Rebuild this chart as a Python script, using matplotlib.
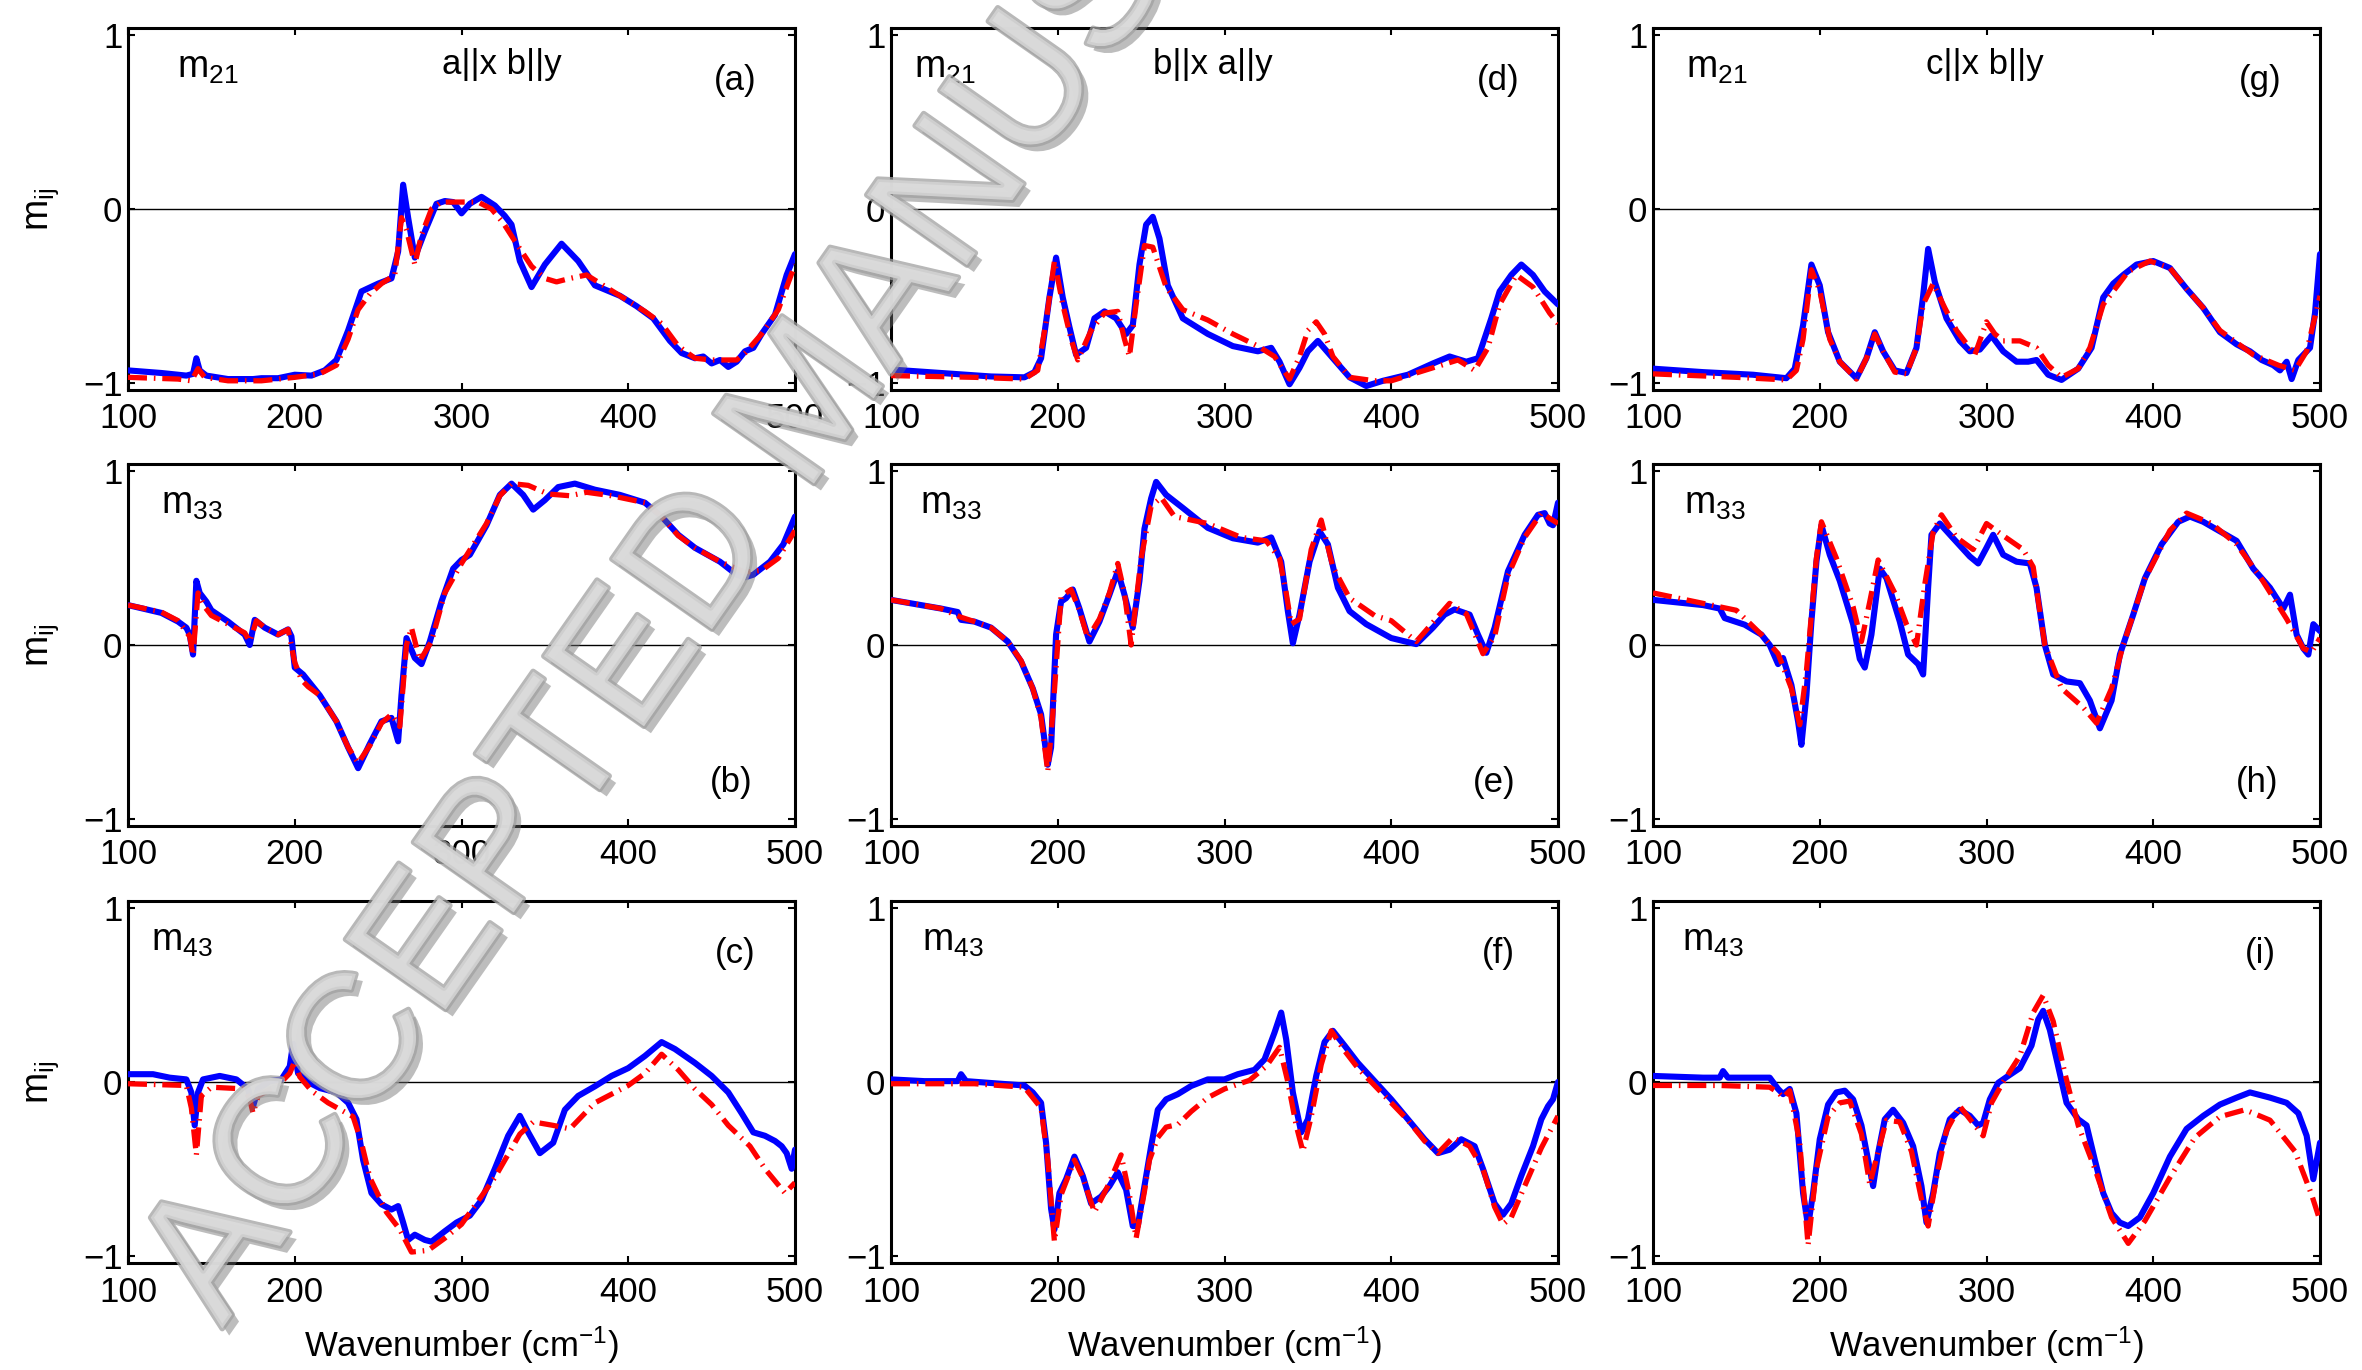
import matplotlib
matplotlib.use("Agg")
import matplotlib.pyplot as plt
import matplotlib.patheffects as pe

fam = "Liberation Sans"
plt.rcParams["font.family"] = [fam, "DejaVu Sans"]
plt.rcParams["mathtext.fontset"] = "custom"
plt.rcParams["mathtext.rm"] = fam
plt.rcParams["mathtext.it"] = fam

# ---- data ----
# (a) m21, a||x b||y
wn_a_meas = [100,120,135,139,141,143,147,160,175,180,190,200,210,218,225,232,240,250,258,262,265,268,272,278,285,290,295,300,305,312,320,326,330,335,342,350,360,370,380,395,405,415,425,432,440,445,450,455,460,465,470,475,480,488,495,500]
m_a_meas = [-0.93,-0.945,-0.96,-0.95,-0.86,-0.93,-0.96,-0.98,-0.98,-0.975,-0.975,-0.955,-0.96,-0.93,-0.87,-0.70,-0.475,-0.43,-0.40,-0.245,0.14,-0.05,-0.28,-0.13,0.03,0.046,0.04,-0.025,0.03,0.07,0.02,-0.04,-0.09,-0.30,-0.45,-0.32,-0.20,-0.30,-0.44,-0.50,-0.56,-0.63,-0.76,-0.83,-0.86,-0.85,-0.89,-0.87,-0.91,-0.88,-0.82,-0.80,-0.72,-0.61,-0.38,-0.26]
wn_a_fit = [100,130,138,142,146,160,180,200,215,225,232,238,245,252,260,264,267,272,276,282,288,300,310,318,325,333,342,350,357,365,375,385,395,410,420,430,440,450,460,465,470,480,490,500]
m_a_fit = [-0.97,-0.98,-0.99,-0.92,-0.97,-0.99,-0.99,-0.97,-0.95,-0.90,-0.75,-0.58,-0.49,-0.43,-0.38,-0.05,-0.12,-0.32,-0.15,0.0,0.04,0.04,0.04,0.0,-0.08,-0.20,-0.33,-0.40,-0.42,-0.40,-0.38,-0.44,-0.50,-0.59,-0.66,-0.79,-0.86,-0.87,-0.87,-0.87,-0.83,-0.72,-0.58,-0.32]

# (b) m33, a||x b||y
wn_b_meas = [100,120,130,135,137,139,141,143,147,150,160,170,173,176,182,190,196,198,200,205,215,225,232,238,245,252,258,262,264,267,272,276,281,288,295,300,305,315,323,330,337,343,350,358,368,380,395,410,420,430,440,455,465,470,475,485,493,500]
m_b_meas = [0.23,0.185,0.135,0.10,0.06,-0.055,0.37,0.30,0.25,0.20,0.135,0.06,0.0,0.145,0.10,0.06,0.09,0.05,-0.13,-0.17,-0.29,-0.44,-0.59,-0.71,-0.57,-0.44,-0.42,-0.555,-0.29,0.04,-0.075,-0.11,0.02,0.25,0.44,0.49,0.52,0.69,0.865,0.93,0.865,0.78,0.835,0.91,0.93,0.895,0.865,0.82,0.74,0.635,0.56,0.48,0.405,0.39,0.405,0.48,0.58,0.74]
wn_b_fit = [100,120,130,137,139,142,146,150,160,170,173,177,182,190,196,200,204,208,215,225,232,238,245,252,258,263,267,270,275,282,290,300,315,323,330,340,352,365,375,390,410,420,430,440,455,470,480,490,500]
m_b_fit = [0.23,0.19,0.14,0.05,-0.06,0.30,0.22,0.17,0.12,0.07,0.02,0.14,0.10,0.06,0.09,-0.10,-0.20,-0.24,-0.29,-0.44,-0.59,-0.68,-0.58,-0.45,-0.40,-0.47,0.0,0.10,-0.09,0.02,0.30,0.47,0.70,0.86,0.93,0.92,0.87,0.86,0.88,0.86,0.82,0.74,0.63,0.56,0.48,0.42,0.43,0.50,0.66]

# (c) m43, a||x b||y
wn_c_meas = [100,115,125,135,138,140,142,145,155,165,172,175,178,185,192,197,199,202,208,215,225,232,237,241,246,252,258,262,265,268,272,278,282,290,297,305,312,320,328,335,340,347,355,362,370,380,390,400,410,420,428,440,450,460,468,475,482,488,492,495,498,500]
m_c_meas = [0.045,0.045,0.025,0.015,-0.06,-0.25,-0.06,0.015,0.035,0.015,-0.04,-0.14,-0.04,0.005,0.015,0.09,0.22,0.05,0.0,-0.035,-0.06,-0.12,-0.215,-0.45,-0.64,-0.705,-0.735,-0.715,-0.81,-0.91,-0.88,-0.91,-0.92,-0.86,-0.81,-0.77,-0.68,-0.50,-0.31,-0.195,-0.29,-0.41,-0.35,-0.16,-0.08,-0.025,0.035,0.08,0.15,0.23,0.19,0.11,0.035,-0.06,-0.18,-0.29,-0.31,-0.34,-0.37,-0.41,-0.50,-0.39]
wn_c_fit = [100,135,138,141,144,150,170,173,175,178,190,197,200,203,210,220,235,240,245,255,263,270,280,290,300,320,335,343,355,365,380,400,410,420,430,440,450,460,473,482,494,500]
m_c_fit = [-0.01,-0.02,-0.15,-0.42,-0.08,-0.03,-0.04,-0.10,-0.18,-0.08,-0.02,0.05,0.12,0.03,-0.05,-0.12,-0.20,-0.35,-0.55,-0.75,-0.85,-0.98,-0.97,-0.90,-0.82,-0.55,-0.30,-0.23,-0.25,-0.27,-0.12,-0.02,0.05,0.16,0.07,-0.04,-0.13,-0.25,-0.37,-0.50,-0.64,-0.58]

# (d) m21, b||x a||y
wn_d_meas = [100,130,160,180,186,190,195,199,203,207,211,217,222,228,235,241,245,249,253,257,261,266,275,290,305,320,328,333,339,345,350,356,365,375,385,395,410,425,435,445,452,460,465,472,478,485,492,500]
m_d_meas = [-0.925,-0.945,-0.965,-0.97,-0.94,-0.86,-0.51,-0.28,-0.51,-0.68,-0.84,-0.80,-0.63,-0.59,-0.63,-0.72,-0.67,-0.32,-0.09,-0.045,-0.17,-0.44,-0.63,-0.72,-0.79,-0.82,-0.80,-0.88,-1.01,-0.915,-0.82,-0.76,-0.86,-0.97,-1.02,-0.99,-0.955,-0.89,-0.85,-0.88,-0.86,-0.63,-0.475,-0.38,-0.32,-0.38,-0.475,-0.55]
wn_d_fit = [100,150,180,188,193,198,203,208,212,220,228,236,240,243,247,252,257,265,275,290,305,320,330,339,345,350,355,360,365,375,390,400,420,440,450,458,465,475,485,495,500]
m_d_fit = [-0.96,-0.97,-0.98,-0.93,-0.65,-0.30,-0.55,-0.75,-0.87,-0.70,-0.60,-0.59,-0.75,-0.85,-0.55,-0.21,-0.22,-0.45,-0.58,-0.64,-0.72,-0.79,-0.85,-0.98,-0.85,-0.70,-0.65,-0.72,-0.85,-0.97,-0.99,-0.99,-0.93,-0.87,-0.93,-0.80,-0.55,-0.38,-0.45,-0.60,-0.66]

# (e) m33, b||x a||y
wn_e_meas = [100,130,140,142,150,160,170,178,185,190,194,196,199,202,205,209,213,219,225,231,236,240,245,249,252,256,259,265,275,290,305,320,328,334,338,341,345,351,357,362,368,375,385,400,415,425,432,438,447,452,457,462,470,480,488,492,495,497,500]
m_e_meas = [0.26,0.21,0.19,0.145,0.135,0.10,0.02,-0.095,-0.25,-0.40,-0.69,-0.59,0.06,0.25,0.27,0.32,0.21,0.02,0.135,0.29,0.425,0.29,0.10,0.37,0.67,0.845,0.94,0.865,0.79,0.675,0.615,0.59,0.62,0.48,0.195,0.01,0.175,0.48,0.655,0.58,0.33,0.195,0.12,0.04,0.005,0.10,0.175,0.205,0.175,0.06,-0.045,0.10,0.425,0.635,0.75,0.76,0.70,0.69,0.82]
wn_e_fit = [100,130,142,150,160,170,178,185,190,194,197,202,208,213,218,225,231,236,240,244,250,256,262,270,290,310,325,333,337,340,345,352,358,365,375,390,400,415,425,435,445,455,462,470,480,490,500]
m_e_fit = [0.26,0.21,0.16,0.135,0.10,0.02,-0.09,-0.25,-0.42,-0.73,-0.40,0.28,0.32,0.20,0.04,0.15,0.30,0.47,0.30,0.00,0.50,0.80,0.85,0.74,0.70,0.62,0.60,0.50,0.30,0.12,0.15,0.55,0.72,0.45,0.27,0.17,0.14,0.02,0.13,0.24,0.18,-0.05,0.05,0.40,0.62,0.76,0.70]

# (f) m43, b||x a||y
wn_f_meas = [100,120,140,142,145,170,180,185,190,193,196,198,201,205,210,215,220,226,231,236,241,245,248,252,256,260,265,272,280,290,300,308,318,324,330,334,337,341,346,350,355,360,365,372,380,390,400,410,420,428,435,442,450,455,462,467,472,478,485,490,494,497,500]
m_f_meas = [0.015,0.005,0.005,0.045,0.005,-0.013,-0.02,-0.06,-0.12,-0.35,-0.73,-0.85,-0.64,-0.56,-0.43,-0.54,-0.70,-0.66,-0.60,-0.52,-0.62,-0.83,-0.83,-0.60,-0.37,-0.16,-0.10,-0.07,-0.023,0.015,0.015,0.045,0.07,0.13,0.285,0.40,0.245,-0.06,-0.29,-0.215,0.035,0.23,0.295,0.21,0.11,0.005,-0.10,-0.215,-0.33,-0.41,-0.39,-0.33,-0.37,-0.50,-0.70,-0.765,-0.70,-0.54,-0.37,-0.215,-0.14,-0.10,0.0]
wn_f_fit = [100,150,180,190,194,198,202,210,215,222,230,238,243,247,252,255,260,265,272,280,290,300,315,325,333,338,343,347,352,358,364,372,380,390,400,410,420,428,437,447,455,462,467,472,480,490,500]
m_f_fit = [-0.01,-0.01,-0.03,-0.15,-0.45,-0.92,-0.65,-0.45,-0.55,-0.75,-0.60,-0.42,-0.65,-0.90,-0.63,-0.45,-0.32,-0.26,-0.245,-0.17,-0.09,-0.04,0.01,0.09,0.20,0.0,-0.25,-0.40,-0.20,0.10,0.295,0.18,0.08,-0.02,-0.12,-0.22,-0.34,-0.41,-0.32,-0.37,-0.50,-0.72,-0.82,-0.78,-0.60,-0.38,-0.196]

# (g) m21, c||x b||y
wn_g_meas = [100,130,160,180,185,190,195,200,205,212,222,228,233,238,245,252,258,262,265,269,276,284,290,296,303,310,318,325,330,337,345,355,363,370,376,382,390,400,410,420,430,440,450,458,465,472,476,480,483,487,490,494,497,500]
m_g_meas = [-0.92,-0.94,-0.955,-0.975,-0.92,-0.67,-0.32,-0.44,-0.71,-0.88,-0.975,-0.86,-0.71,-0.82,-0.93,-0.945,-0.80,-0.50,-0.23,-0.42,-0.63,-0.76,-0.82,-0.81,-0.73,-0.82,-0.88,-0.88,-0.87,-0.955,-0.985,-0.92,-0.80,-0.51,-0.43,-0.38,-0.32,-0.30,-0.34,-0.46,-0.57,-0.71,-0.78,-0.82,-0.87,-0.90,-0.93,-0.88,-0.98,-0.87,-0.84,-0.80,-0.60,-0.26]
wn_g_fit = [100,150,180,186,190,195,200,206,212,222,228,233,238,245,252,258,262,268,275,282,293,300,305,310,320,330,337,345,355,362,370,385,398,410,420,430,440,460,475,485,492,500]
m_g_fit = [-0.95,-0.97,-0.985,-0.93,-0.75,-0.35,-0.47,-0.75,-0.88,-0.98,-0.86,-0.72,-0.82,-0.94,-0.95,-0.80,-0.55,-0.43,-0.57,-0.70,-0.84,-0.65,-0.72,-0.76,-0.76,-0.80,-0.90,-0.97,-0.92,-0.80,-0.55,-0.36,-0.30,-0.34,-0.46,-0.57,-0.70,-0.84,-0.90,-0.93,-0.82,-0.50]

# (h) m33, c||x b||y
wn_h_meas = [100,130,140,143,155,165,170,175,178,183,187,189,192,195,198,201,206,212,220,224,227,231,236,240,248,253,259,262,265,267,272,280,290,295,300,304,310,318,326,330,335,340,348,356,362,368,375,380,388,395,405,415,422,430,440,450,460,470,478,482,486,490,493,496,500]
m_h_meas = [0.26,0.23,0.21,0.155,0.117,0.06,0.0,-0.11,-0.075,-0.23,-0.44,-0.575,-0.29,0.135,0.48,0.69,0.52,0.37,0.12,-0.08,-0.13,0.06,0.44,0.385,0.135,-0.055,-0.11,-0.17,0.33,0.635,0.70,0.615,0.51,0.47,0.56,0.635,0.52,0.48,0.47,0.33,0.0,-0.17,-0.21,-0.22,-0.32,-0.48,-0.32,-0.055,0.175,0.385,0.58,0.71,0.74,0.71,0.655,0.60,0.44,0.33,0.21,0.29,0.06,-0.02,-0.055,0.12,0.08]
wn_h_fit = [100,150,165,175,183,188,192,198,201,210,220,225,230,235,245,252,258,263,268,273,282,292,300,310,322,328,335,345,358,366,375,382,395,410,420,435,450,465,480,490,495,500]
m_h_fit = [0.30,0.20,0.06,-0.05,-0.25,-0.46,-0.15,0.50,0.71,0.50,0.22,0.02,0.25,0.49,0.30,0.12,0.0,0.35,0.65,0.75,0.62,0.55,0.70,0.63,0.55,0.45,0.0,-0.25,-0.36,-0.45,-0.25,0.0,0.38,0.66,0.76,0.70,0.58,0.38,0.15,-0.02,-0.04,0.04]

# (i) m43, c||x b||y
wn_i_meas = [100,130,140,142,145,170,175,178,182,186,190,193,196,200,205,210,215,220,225,229,232,235,239,244,250,256,261,264,268,272,278,284,290,295,298,302,307,313,320,327,331,334,338,343,348,355,360,365,370,375,380,385,392,400,410,420,430,440,450,458,470,480,487,492,496,500]
m_i_meas = [0.035,0.025,0.025,0.063,0.025,0.025,-0.04,-0.07,-0.04,-0.18,-0.64,-0.83,-0.64,-0.33,-0.13,-0.06,-0.05,-0.10,-0.25,-0.45,-0.60,-0.41,-0.215,-0.16,-0.235,-0.37,-0.60,-0.81,-0.64,-0.41,-0.215,-0.16,-0.195,-0.25,-0.235,-0.10,-0.005,0.035,0.08,0.21,0.36,0.41,0.30,0.09,-0.12,-0.215,-0.25,-0.45,-0.64,-0.755,-0.81,-0.83,-0.78,-0.64,-0.43,-0.27,-0.195,-0.13,-0.09,-0.06,-0.09,-0.12,-0.18,-0.31,-0.56,-0.35]
wn_i_fit = [100,140,170,175,178,182,188,193,198,205,212,218,225,230,235,240,248,255,262,265,270,276,284,293,298,303,310,320,328,334,340,347,355,365,375,385,395,410,425,440,455,470,485,495,500]
m_i_fit = [-0.02,-0.02,-0.03,-0.06,-0.09,-0.05,-0.35,-0.94,-0.50,-0.20,-0.12,-0.11,-0.30,-0.59,-0.40,-0.22,-0.23,-0.40,-0.72,-0.83,-0.55,-0.28,-0.14,-0.25,-0.31,-0.12,0.0,0.15,0.40,0.50,0.35,0.05,-0.25,-0.50,-0.78,-0.93,-0.80,-0.55,-0.32,-0.20,-0.16,-0.22,-0.40,-0.65,-0.80]

elements = ["m$_{21}$", "m$_{33}$", "m$_{43}$"]
orientations = ["a||x b||y", "b||x a||y", "c||x b||y"]
letters = [["(a)", "(b)", "(c)"], ["(d)", "(e)", "(f)"], ["(g)", "(h)", "(i)"]]

meas = [[(wn_a_meas, m_a_meas), (wn_b_meas, m_b_meas), (wn_c_meas, m_c_meas)],
        [(wn_d_meas, m_d_meas), (wn_e_meas, m_e_meas), (wn_f_meas, m_f_meas)],
        [(wn_g_meas, m_g_meas), (wn_h_meas, m_h_meas), (wn_i_meas, m_i_meas)]]
fits = [[(wn_a_fit, m_a_fit), (wn_b_fit, m_b_fit), (wn_c_fit, m_c_fit)],
        [(wn_d_fit, m_d_fit), (wn_e_fit, m_e_fit), (wn_f_fit, m_f_fit)],
        [(wn_g_fit, m_g_fit), (wn_h_fit, m_h_fit), (wn_i_fit, m_i_fit)]]

W, H = 2362, 1370
fig = plt.figure(figsize=(W / 100, H / 100), dpi=100)

col_left = [128, 891, 1653]
row_top = [28, 464, 901]
ax_w, ax_h = 667, 362
title_x = [0.56, 0.483, 0.497]
sym_x = [[0.073, 0.05, 0.034], [0.034, 0.044, 0.046], [0.05, 0.046, 0.043]]
fs = 25

for c in range(3):
    for r in range(3):
        ax = fig.add_axes([col_left[c] / W, 1 - (row_top[r] + ax_h) / H, ax_w / W, ax_h / H])
        ax.axhline(0, color="k", lw=1.0, zorder=1)
        x, y = meas[c][r]
        ax.plot(x, y, color="#0000ff", lw=4.4, solid_joinstyle="round", solid_capstyle="round", zorder=3)
        x, y = fits[c][r]
        ax.plot(x, y, color="#ff0000", lw=3.8, dashes=(3.6, 1.3, 0.3, 1.3), zorder=4)
        ax.set_xlim(100, 500)
        ax.set_ylim(-1.043, 1.043)
        ax.set_xticks([100, 200, 300, 400, 500])
        ax.set_yticks([-1, 0, 1])
        ax.tick_params(direction="in", top=True, right=True, length=5, width=1.5, labelsize=fs)
        ax.tick_params(axis="x", pad=9)
        ax.tick_params(axis="y", pad=4)
        for s in ax.spines.values():
            s.set_linewidth(2.2)
        ax.text(sym_x[c][r], 0.89, elements[r], transform=ax.transAxes, fontsize=27, va="center", ha="left")
        if r == 1:
            ax.text(0.905, 0.12, letters[c][r], transform=ax.transAxes, fontsize=fs, va="center", ha="center")
        else:
            ax.text(0.91, 0.855, letters[c][r], transform=ax.transAxes, fontsize=fs, va="center", ha="center")
        if r == 0:
            ax.text(title_x[c], 0.90, orientations[c], transform=ax.transAxes, fontsize=fs, va="center", ha="center")
        if c == 0:
            ax.set_ylabel("m$_{ij}$", fontsize=27, va="center")
            ax.yaxis.set_label_coords(-0.128, 0.5)
        if r == 2:
            ax.set_xlabel("Wavenumber (cm$^{-1}$)", fontsize=fs, va="center")
            ax.xaxis.set_label_coords(0.5, -0.226)

# watermark laid over the panels
fig.text(0.094, 0.03, "ACCEPTED MANUSCRIPT", fontsize=128, rotation=55,
         rotation_mode="anchor", ha="left", va="baseline", color="#dadada", alpha=0.75,
         zorder=10,
         path_effects=[pe.withSimplePatchShadow(offset=(5, -5), shadow_rgbFace="#6e6e6e", alpha=0.45),
                       pe.Stroke(linewidth=4, foreground="#a0a0a0"), pe.Normal()])

fig.savefig("out.png", dpi=100)
